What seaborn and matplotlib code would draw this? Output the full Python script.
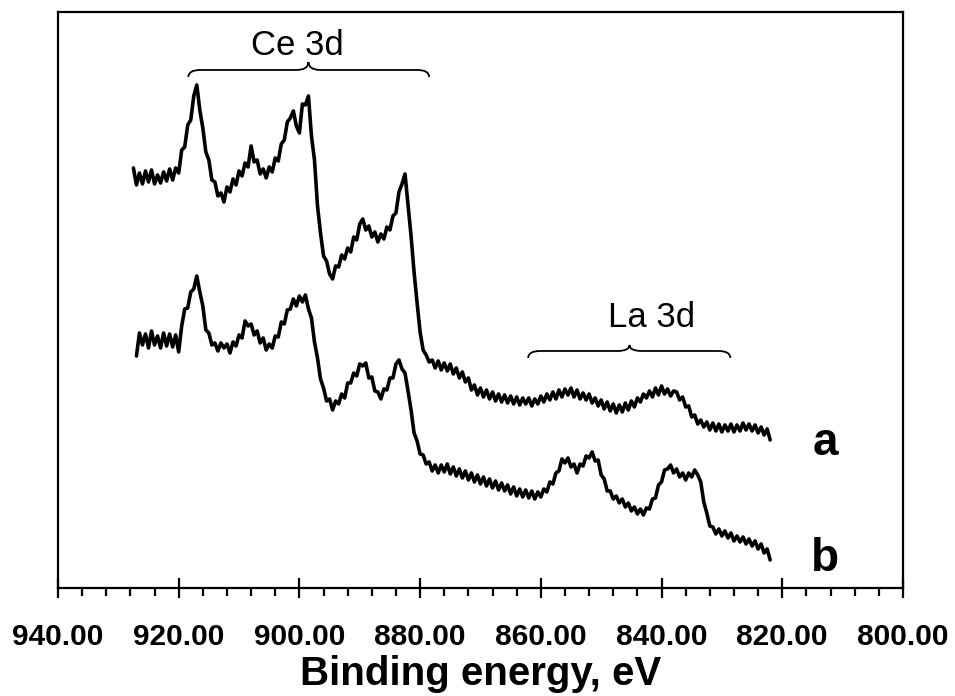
import numpy as np
import pandas as pd
import matplotlib
matplotlib.use("Agg")
import matplotlib.pyplot as plt
from matplotlib.path import Path
from matplotlib.patches import PathPatch
from matplotlib.ticker import MultipleLocator, FormatStrFormatter
import seaborn as sns

# ---------------- data (intensity in arbitrary units) ----------------
energy_a_start, energy_a_end = 927.5, 822.0
intensity_a = [
    420, 403, 415, 404, 417, 406, 418, 404, 413, 405,
    416, 407, 419, 408, 420, 415, 438, 441, 463, 468,
    492, 503, 478, 460, 436, 428, 408, 406, 392, 395,
    386, 401, 396, 409, 403, 417, 412, 425, 421, 442,
    426, 428, 414, 419, 410, 421, 416, 430, 427, 444,
    448, 466, 470, 477, 462, 455, 484, 483, 492, 452,
    428, 382, 355, 332, 327, 314, 309, 322, 321, 333,
    329, 340, 336, 351, 348, 364, 369, 358, 362, 351,
    356, 346, 354, 349, 361, 358, 372, 375, 396, 404,
    414, 383, 352, 316, 285, 256, 238, 233, 226, 228,
    220, 227, 218, 225, 217, 224, 214, 220, 210, 216,
    206, 210, 198, 203, 193, 200, 191, 198, 189, 196,
    187, 194, 186, 193, 185, 192, 184, 191, 183, 190,
    184, 190, 182, 189, 184, 192, 186, 194, 188, 196,
    189, 198, 191, 199, 193, 200, 191, 198, 189, 195,
    188, 194, 185, 190, 182, 188, 179, 186, 177, 184,
    175, 183, 176, 185, 178, 187, 181, 190, 186, 194,
    190, 197, 191, 200, 193, 202, 194, 199, 192, 197,
    196, 188, 191, 181, 182, 171, 173, 164, 168, 161,
    166, 158, 165, 157, 164, 156, 163, 157, 164, 156,
    163, 157, 165, 158, 164, 157, 163, 155, 161, 153,
    159, 148,
]

energy_b_start, energy_b_end = 927.0, 822.0
intensity_b = [
    232, 255, 243, 254, 240, 257, 243, 252, 240, 255,
    242, 254, 241, 253, 236, 262, 279, 280, 296, 299,
    312, 296, 282, 258, 255, 243, 245, 237, 245, 240,
    244, 235, 246, 242, 253, 250, 267, 262, 264, 253,
    257, 245, 250, 238, 244, 240, 252, 251, 266, 264,
    278, 279, 289, 282, 292, 286, 293, 279, 270, 246,
    230, 209, 200, 187, 189, 178, 187, 184, 194, 190,
    205, 205, 215, 212, 224, 222, 225, 210, 211, 197,
    196, 189, 199, 198, 210, 210, 224, 228, 219, 215,
    197, 178, 155, 147, 134, 133, 124, 126, 117, 123,
    115, 123, 116, 124, 114, 121, 112, 119, 110, 117,
    108, 115, 106, 113, 104, 111, 102, 109, 100, 107,
    98, 105, 97, 103, 94, 101, 92, 99, 91, 98,
    90, 97, 89, 96, 91, 99, 96, 106, 104, 115,
    117, 129, 125, 130, 121, 124, 115, 124, 122, 132,
    130, 136, 127, 128, 113, 109, 97, 97, 89, 92,
    85, 89, 81, 85, 77, 81, 74, 79, 73, 80,
    79, 89, 90, 103, 106, 118, 119, 123, 115, 119,
    111, 115, 108, 115, 111, 118, 113, 106, 86, 75,
    62, 61, 54, 59, 52, 57, 50, 55, 47, 52,
    46, 51, 44, 49, 42, 47, 39, 44, 35, 39,
    28,
]

sample_labels = ["a", "b"]
region_labels = ["Ce 3d", "La 3d"]

# ---------------- build frame ----------------
energy_a = np.linspace(energy_a_start, energy_a_end, len(intensity_a))
energy_b = np.linspace(energy_b_start, energy_b_end, len(intensity_b))
df = pd.concat([
    pd.DataFrame({"energy": energy_a, "intensity": intensity_a, "sample": "a"}),
    pd.DataFrame({"energy": energy_b, "intensity": intensity_b, "sample": "b"}),
], ignore_index=True)

sns.set_style("white")
plt.rcParams["font.family"] = ["Liberation Sans", "DejaVu Sans"]
plt.rcParams["text.color"] = "black"
plt.rcParams["axes.labelcolor"] = "black"
plt.rcParams["xtick.color"] = "black"

fig = plt.figure(figsize=(9.55, 6.96), dpi=100)
ax = fig.add_axes([0.0607, 0.1552, 0.8848, 0.8276])

for s in sample_labels:
    sub = df[df["sample"] == s]
    sns.lineplot(data=sub, x="energy", y="intensity", ax=ax, color="black",
                 linewidth=2.6, estimator=None, sort=False)

ax.set_xlim(940, 800)
ax.set_ylim(0, 576)
ax.set_yticks([])
ax.set_ylabel("")
ax.xaxis.set_major_locator(MultipleLocator(20))
ax.xaxis.set_minor_locator(MultipleLocator(4))
ax.xaxis.set_major_formatter(FormatStrFormatter("%.2f"))
ax.tick_params(axis="x", which="major", bottom=True, direction="inout", length=15,
               width=1.6, pad=17.5, labelsize=21.5, color="black", labelcolor="black")
ax.tick_params(axis="x", which="minor", bottom=True, direction="out", length=6,
               width=1.6, color="black")
for lab in ax.get_xticklabels():
    lab.set_fontweight("bold")
ax.set_xlabel("Binding energy, eV", fontsize=29, fontweight="bold", labelpad=3,
              color="black")

for sp in ax.spines.values():
    sp.set_visible(True)
    sp.set_color("black")
    sp.set_linewidth(1.6)

# ---------------- annotations ----------------
def brace(ax, x0, x1, xm, y_line, y_end, y_tip, d):
    verts = [
        (x0, y_end), (x0, y_line), (x0 - d, y_line),
        (xm + d, y_line), (xm, y_line), (xm, y_tip),
        (xm, y_line), (xm - d, y_line),
        (x1 + d, y_line), (x1, y_line), (x1, y_end),
    ]
    codes = [Path.MOVETO, Path.CURVE3, Path.CURVE3,
             Path.LINETO, Path.CURVE3, Path.CURVE3,
             Path.CURVE3, Path.CURVE3,
             Path.LINETO, Path.CURVE3, Path.CURVE3]
    ax.add_patch(PathPatch(Path(verts, codes), fill=False, lw=1.3, color="black"))

brace(ax, 918.4, 878.5, 898.5, 518, 511, 526, 2.0)
brace(ax, 862.1, 828.6, 845.3, 237, 230, 243, 2.0)

ax.text(900.3, 533, region_labels[0], fontsize=25, ha="center", va="baseline", color="black")
ax.text(841.7, 261, region_labels[1], fontsize=25, ha="center", va="baseline", color="black")
ax.text(812.8, 133, sample_labels[0], fontsize=33, fontweight="bold", ha="center",
        va="baseline", color="black")
ax.text(813.0, 17, sample_labels[1], fontsize=33, fontweight="bold", ha="center",
        va="baseline", color="black")

fig.savefig("out.png", dpi=100)
